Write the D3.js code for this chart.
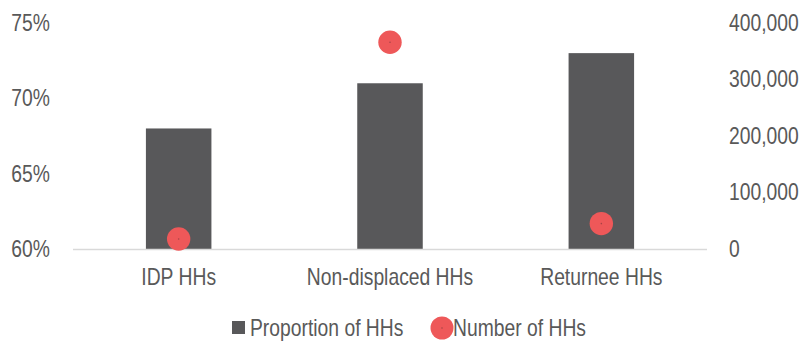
<!DOCTYPE html>
<html><head><meta charset="utf-8">
<script src="https://cdn.jsdelivr.net/npm/d3@7"></script>
<style>
html,body{margin:0;padding:0;background:#fff;}
text{font-family:"Liberation Sans",Arial,sans-serif;fill:#595959;}
</style></head>
<body><svg id="chart" width="801" height="343"></svg>
<script>
const categories = ["IDP HHs", "Non-displaced HHs", "Returnee HHs"];
const proportionValues = [0.68, 0.71, 0.73];
const numberValues = [17700, 366000, 45000];
const leftTicks = [0.60, 0.65, 0.70, 0.75];
const rightTicks = [0, 100000, 200000, 300000, 400000];
const seriesNames = ["Proportion of HHs", "Number of HHs"];

const svg = d3.select("#chart");
const m = {left: 73, right: 94, top: 23, bottom: 94};
const W = 801, H = 343;
const x = d3.scaleBand().domain(categories).range([m.left, W - m.right]).paddingInner(0.69).paddingOuter(0.345);
const yL = d3.scaleLinear().domain([0.60, 0.75]).range([H - m.bottom, m.top]);
const yR = d3.scaleLinear().domain([0, 400000]).range([H - m.bottom, m.top]);
const fs = 23, sx = 0.84;
const narrow = sel => sel.style("font-size", fs + "px").attr("font-family", null).attr("transform", `scale(${sx},1)`);

// bars
svg.append("g").selectAll("rect").data(categories).join("rect")
  .attr("x", d => x(d)).attr("width", x.bandwidth())
  .attr("y", (d,i) => yL(proportionValues[i]))
  .attr("height", (d,i) => yL(0.60) - yL(proportionValues[i]))
  .attr("fill", "#58585a");

// baseline
svg.append("line").attr("x1", m.left).attr("x2", W - m.right)
  .attr("y1", yL(0.60) + 0.5).attr("y2", yL(0.60) + 0.5)
  .attr("stroke", "#d9d9d9").attr("stroke-width", 1.5);

// left axis
const axL = d3.axisLeft(yL).tickValues(leftTicks).tickFormat(d3.format(".0%")).tickSize(0).tickPadding(0);
const gL = svg.append("g").attr("transform", "translate(50,0)").call(axL);
gL.select(".domain").remove();
gL.selectAll("text").call(narrow);

// right axis
const axR = d3.axisRight(yR).tickValues(rightTicks).tickFormat(d3.format(",")).tickSize(0).tickPadding(0);
const gR = svg.append("g").attr("transform", "translate(729,0)").call(axR);
gR.select(".domain").remove();
gR.selectAll("text").call(narrow);

// x axis labels
const axX = d3.axisBottom(x).tickSize(0).tickPadding(0);
const gX = svg.append("g").attr("transform", `translate(0,${yL(0.60) + 20})`).call(axX);
gX.select(".domain").remove();
gX.selectAll("text").call(narrow);

// points
const pts = svg.append("g");
pts.selectAll("circle.pt").data(categories).join("circle").attr("class", "pt")
  .attr("cx", d => x(d) + x.bandwidth() / 2)
  .attr("cy", (d,i) => yR(numberValues[i]))
  .attr("r", 11.7).attr("fill", "#ee5859");
pts.selectAll("circle.dot").data(categories).join("circle").attr("class", "dot")
  .attr("cx", d => x(d) + x.bandwidth() / 2)
  .attr("cy", (d,i) => yR(numberValues[i]))
  .attr("r", 0.8).attr("fill", "#a84446");

// legend
const lg = svg.append("g");
lg.append("rect").attr("x", 232).attr("y", 321).attr("width", 13).attr("height", 13).attr("fill", "#58585a");
lg.append("g").attr("transform", "translate(250,328)").append("text").attr("dy", "0.35em").text(seriesNames[0]).call(narrow);
lg.append("circle").attr("cx", 442).attr("cy", 328).attr("r", 11.5).attr("fill", "#ee5859");
lg.append("circle").attr("cx", 442).attr("cy", 328).attr("r", 0.8).attr("fill", "#a84446");
lg.append("g").attr("transform", "translate(453,328)").append("text").attr("dy", "0.35em").text(seriesNames[1]).call(narrow);
</script></body></html>
